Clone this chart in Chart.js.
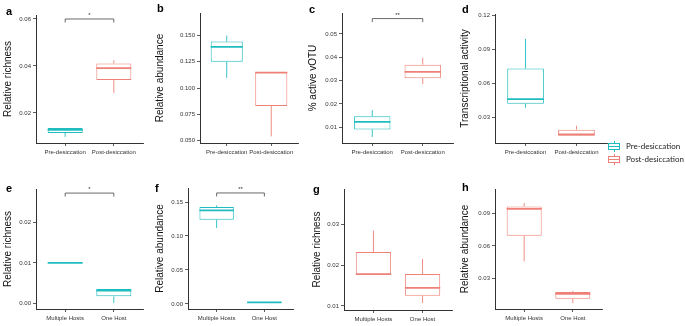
<!DOCTYPE html>
<html>
<head>
<meta charset="utf-8">
<script src="https://cdn.jsdelivr.net/npm/chart.js@4.4.1/dist/chart.umd.min.js"></script>
<style>
  body { margin: 0; background: #fff; width: 685px; height: 326px; position: relative; overflow: hidden; font-family: "Liberation Sans", Arial, sans-serif; }
  canvas { position: absolute; }
  .tag { position: absolute; font-weight: bold; font-size: 11px; line-height: 11px; color: #000; }
  .legend { position: absolute; left: 607px; top: 140px; font-family: Lato, sans-serif; font-size: 8px; color: #222; }
  .legend .row { position: relative; height: 13px; line-height: 13px; padding-left: 19px; white-space: nowrap; }
  .glyph { position: absolute; left: 1px; top: 1px; width: 12px; height: 11px; }
  .glyph i { position: absolute; display: block; }
</style>
</head>
<body>

<script>
// group labels
const desiccation = ["Pre-desiccation", "Post-desiccation"];
const hosts = ["Multiple Hosts", "One Host"];

// box stats per group: [min, q1, median, q3, max]
const richnessDesic = [[0.0098, 0.0115, 0.0128, 0.0136, 0.0136], [0.0285, 0.0340, 0.0391, 0.0411, 0.0424]];
const abundanceDesic = [[0.1097, 0.1250, 0.1392, 0.1443, 0.1500], [0.0538, 0.0829, 0.1147, 0.1153, 0.1153]];
const activeDesic = [[0.0058, 0.0090, 0.0123, 0.0147, 0.0173], [0.0285, 0.0310, 0.0337, 0.0368, 0.0398]];
const transcDesic = [[0.0387, 0.0423, 0.0463, 0.0731, 0.0991], [0.0142, 0.0142, 0.0154, 0.0195, 0.0230]];
const richnessPre = [[0.0100, 0.0100, 0.0100, 0.0100, 0.0100], [0.0002, 0.0018, 0.0032, 0.0036, 0.0036]];
const abundancePre = [[0.1116, 0.1239, 0.1376, 0.1426, 0.1450], [0.0015, 0.0015, 0.0022, 0.0030, 0.0030]];
const richnessPost = [[0.0176, 0.0176, 0.0178, 0.0232, 0.0284], [0.0107, 0.0125, 0.0144, 0.0178, 0.0215]];
const abundancePost = [[0.0458, 0.0693, 0.0937, 0.0960, 0.0990], [0.0078, 0.0118, 0.0163, 0.0179, 0.0190]];

// y tick labels
const ticksA = ["0.02", "0.04", "0.06"];
const ticksB = ["0.050", "0.075", "0.100", "0.125", "0.150"];
const ticksC = ["0.01", "0.02", "0.03", "0.04", "0.05"];
const ticksD = ["0.03", "0.06", "0.09", "0.12"];
const ticksE = ["0.00", "0.01", "0.02"];
const ticksF = ["0.00", "0.05", "0.10", "0.15"];
const ticksG = ["0.01", "0.02", "0.03"];
const ticksH = ["0.03", "0.06", "0.09"];

const TEAL = "#1fbcc0";
const SALMON = "#ee8177";

// one entry per panel; L/R/T/B are the axis edges on the page
const panels = [
  { tag: "a", title: "Relative richness", cats: desiccation, stats: richnessDesic, ticks: ticksA, yMin: 0.0072, yMax: 0.0617,
    colors: [TEAL, SALMON], sig: { y: 0.060, text: "*" }, L: 36, R: 143, T: 15, B: 143, titleX: 8, tagX: 6, tagY: 6 },
  { tag: "b", title: "Relative abundance", cats: desiccation, stats: abundanceDesic, ticks: ticksB, yMin: 0.0475, yMax: 0.1716,
    colors: [TEAL, SALMON], sig: null, L: 200, R: 298, T: 13, B: 143, titleX: 160, tagX: 157, tagY: 3 },
  { tag: "c", title: "% active vOTU", cats: desiccation, stats: activeDesic, ticks: ticksC, yMin: 0.0032, yMax: 0.059,
    colors: [TEAL, SALMON], sig: { y: 0.0566, text: "**" }, L: 342, R: 453, T: 13, B: 143, titleX: 313, tagX: 309, tagY: 4 },
  { tag: "d", title: "Transcriptional activity", cats: desiccation, stats: transcDesic, ticks: ticksD, yMin: 0.0078, yMax: 0.121,
    colors: [TEAL, SALMON], sig: null, L: 495, R: 607, T: 14, B: 143, titleX: 465, tagX: 462, tagY: 4 },
  { tag: "e", title: "Relative richness", cats: hosts, stats: richnessPre, ticks: ticksE, yMin: -0.0013, yMax: 0.0281,
    colors: [TEAL, TEAL], sig: { y: 0.0271, text: "*" }, L: 36, R: 143, T: 189, B: 309, titleX: 8, tagX: 6, tagY: 183 },
  { tag: "f", title: "Relative abundance", cats: hosts, stats: abundancePre, ticks: ticksF, yMin: -0.0074, yMax: 0.1706,
    colors: [TEAL, TEAL], sig: { y: 0.1633, text: "**" }, L: 188, R: 293, T: 188, B: 309, titleX: 160, tagX: 155, tagY: 183 },
  { tag: "g", title: "Relative richness", cats: hosts, stats: richnessPost, ticks: ticksG, yMin: 0.009, yMax: 0.0386,
    colors: [SALMON, SALMON], sig: null, L: 344, R: 452, T: 189, B: 310, titleX: 317, tagX: 313, tagY: 184 },
  { tag: "h", title: "Relative abundance", cats: hosts, stats: abundancePost, ticks: ticksH, yMin: 0.0024, yMax: 0.1119,
    colors: [SALMON, SALMON], sig: null, L: 495, R: 602, T: 189, B: 309, titleX: 465, tagX: 462, tagY: 182 },
];

const PAD_TOP = 10, PAD_RIGHT = 8, X_AXIS_H = 22;
const AXIS = "#333";

// whiskers, medians and the significance bracket on top of the floating-bar boxes
function boxExtras(p) {
  return {
    id: "boxExtras",
    afterDatasetsDraw(chart) {
      const { ctx, scales: { x, y } } = chart;
      const meta = chart.getDatasetMeta(0);
      ctx.save();
      meta.data.forEach((bar, i) => {
        const [lo, q1, med, q3, hi] = p.stats[i];
        const half = bar.width / 2;
        ctx.strokeStyle = p.colors[i];
        ctx.lineWidth = 0.9;
        ctx.beginPath();
        ctx.moveTo(bar.x, y.getPixelForValue(q3));
        ctx.lineTo(bar.x, y.getPixelForValue(hi));
        ctx.moveTo(bar.x, y.getPixelForValue(q1));
        ctx.lineTo(bar.x, y.getPixelForValue(lo));
        ctx.stroke();
        ctx.lineWidth = 1.8;
        ctx.beginPath();
        ctx.moveTo(bar.x - half, y.getPixelForValue(med));
        ctx.lineTo(bar.x + half, y.getPixelForValue(med));
        ctx.stroke();
      });
      if (p.sig) {
        const yb = y.getPixelForValue(p.sig.y);
        const x1 = x.getPixelForValue(1), x2 = x.getPixelForValue(2);
        ctx.strokeStyle = "#444";
        ctx.lineWidth = 0.8;
        ctx.beginPath();
        ctx.moveTo(x1, yb + 3.5);
        ctx.lineTo(x1, yb);
        ctx.lineTo(x2, yb);
        ctx.lineTo(x2, yb + 3.5);
        ctx.stroke();
        ctx.fillStyle = "#333";
        ctx.font = "6px 'Liberation Sans', Arial, sans-serif";
        ctx.textAlign = "center";
        ctx.textBaseline = "bottom";
        ctx.fillText(p.sig.text, (x1 + x2) / 2, yb - 0.5);
      }
      ctx.restore();
    }
  };
}

panels.forEach(p => {
  const left = p.titleX - 6;
  const top = p.T - PAD_TOP;
  const width = p.R - left + PAD_RIGHT;
  const height = p.B - p.T + PAD_TOP + X_AXIS_H;

  const canvas = document.createElement("canvas");
  canvas.style.left = left + "px";
  canvas.style.top = top + "px";
  canvas.style.width = width + "px";
  canvas.style.height = height + "px";
  canvas.width = width;
  canvas.height = height;
  document.body.appendChild(canvas);

  const tag = document.createElement("div");
  tag.className = "tag";
  tag.style.left = p.tagX + "px";
  tag.style.top = p.tagY + "px";
  tag.textContent = p.tag;
  document.body.appendChild(tag);

  const tickValues = p.ticks.map(Number);

  new Chart(canvas, {
    type: "bar",
    data: {
      datasets: [{
        data: p.stats.map((s, i) => ({ x: i + 1, y: [s[1], s[3]] })),
        backgroundColor: "#fff",
        borderColor: p.colors,
        borderWidth: 1,
        borderSkipped: false,
        barPercentage: 0.72,
        categoryPercentage: 1,
      }],
    },
    options: {
      responsive: false,
      animation: false,
      devicePixelRatio: 1,
      layout: { padding: { top: PAD_TOP, right: PAD_RIGHT, left: 0, bottom: 0 } },
      plugins: { legend: { display: false }, tooltip: { enabled: false } },
      scales: {
        x: {
          type: "linear",
          offset: false,
          min: 0.4,
          max: 2.6,
          afterBuildTicks: s => { s.ticks = [{ value: 1 }, { value: 2 }]; },
          afterFit: s => { s.height = X_AXIS_H; },
          grid: { offset: false, drawOnChartArea: false, drawTicks: true, tickLength: 3, color: AXIS, lineWidth: 0.8 },
          border: { display: true, color: AXIS, width: 1 },
          ticks: {
            autoSkip: false, maxRotation: 0, padding: 3, color: "#333",
            font: { family: "'Liberation Sans', Arial, sans-serif", size: 6 },
            callback: (v, i) => p.cats[i],
          },
        },
        y: {
          min: p.yMin,
          max: p.yMax,
          afterBuildTicks: s => { s.ticks = tickValues.map(v => ({ value: v })); },
          afterFit: s => { s.width = p.L - left; },
          grid: { drawOnChartArea: false, drawTicks: true, tickLength: 3, color: AXIS, lineWidth: 0.8 },
          border: { display: true, color: AXIS, width: 1 },
          ticks: {
            autoSkip: false, padding: 2, color: "#333",
            font: { family: "'Liberation Sans', Arial, sans-serif", size: 6 },
            callback: (v, i) => p.ticks[i],
          },
          title: {
            display: true, text: p.title, color: "#111", padding: 0,
            font: { family: "'Liberation Sans', Arial, sans-serif", size: 10 },
          },
        },
      },
    },
    plugins: [boxExtras(p)],
  });
});
</script>

<div class="legend">
  <div class="row">
    <span class="glyph">
      <i style="left:5.5px;top:0;width:1px;height:11px;background:#1fbcc0"></i>
      <i style="left:0;top:2px;width:10px;height:5px;border:1px solid #1fbcc0;background:#fff"></i>
      <i style="left:0;top:5px;width:12px;height:1.4px;background:#1fbcc0"></i>
    </span>Pre-desiccation
  </div>
  <div class="row">
    <span class="glyph">
      <i style="left:5.5px;top:0;width:1px;height:11px;background:#ee8177"></i>
      <i style="left:0;top:2px;width:10px;height:5px;border:1px solid #ee8177;background:#fff"></i>
      <i style="left:0;top:5px;width:12px;height:1.4px;background:#ee8177"></i>
    </span>Post-desiccation
  </div>
</div>
</body>
</html>
